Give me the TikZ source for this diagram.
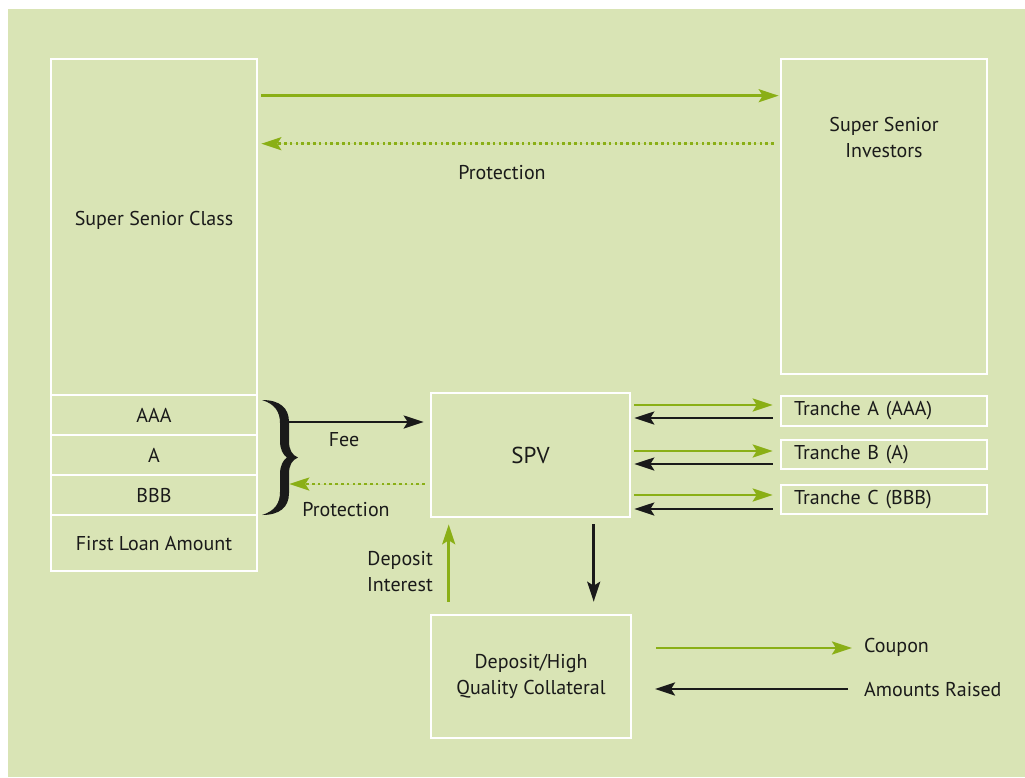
\documentclass[tikz,border=0pt]{standalone}
\usepackage{fontspec}
\setmainfont{PT Sans}
\usetikzlibrary{arrows.meta,calc}
\definecolor{bg}{RGB}{217,228,181}
\definecolor{leaf}{RGB}{138,175,22}
\definecolor{ink}{RGB}{26,26,26}
\tikzset{
  box/.style={draw=white, line width=2.6pt, inner sep=0pt, align=center,
    font=\fontsize{20}{26}\selectfont, text=ink},
  lbl/.style={inner sep=0pt, font=\fontsize{20}{26}\selectfont, text=ink},
  tip/.style={-{Stealth[length=20pt,width=13pt,inset=4pt]}},
  flow/.style={tip, line width=2.6pt, draw=ink},
  coupon/.style={tip, line width=2.6pt, draw=leaf, fill=leaf},
  cover/.style={tip, line width=2.6pt, draw=leaf, fill=leaf,
    dash pattern=on 2.6pt off 3.2pt},
  tranche/.style={box, minimum width=206pt, minimum height=29pt,
    text width=180pt, inner xsep=13pt, align=left},
}
\begin{document}
\begin{tikzpicture}[x=1pt,y=-1pt]
  \useasboundingbox (0,0) rectangle (1025,777);
  \fill[bg] (8,9) rectangle (1025,777);

  % capital structure column
  \node[box, minimum width=206pt, minimum height=336pt] (ssc) at (154,227) {};
  \node[lbl] (ssctxt) at (154,220) {Super Senior Class};
  \node[box, minimum width=206pt, minimum height=40pt] (aaa) at (154,415) {AAA};
  \node[box, minimum width=206pt, minimum height=40pt] (a) at (154,455) {A};
  \node[box, minimum width=206pt, minimum height=40pt] (bbb) at (154,495) {BBB};
  \node[box, minimum width=206pt, minimum height=56pt] (flm) at (154,543) {First Loan Amount};

  % counterparties
  \node[box, minimum width=206pt, minimum height=315pt] (ssi) at (884,216.5) {};
  \node[lbl, align=center] (ssitxt) at (884,137) {Super Senior\\Investors};
  \node[box, minimum width=199pt, minimum height=124pt,
    font=\fontsize{23}{28}\selectfont] (spv) at (530.5,455) {SPV};
  \node[tranche, minimum height=30pt] (ta) at (884,411) {Tranche A (AAA)};
  \node[tranche] (tb) at (884,454.5) {Tranche B (A)};
  \node[tranche] (tc) at (884,499.5) {Tranche C (BBB)};
  \node[box, minimum width=200pt, minimum height=123pt] (dep) at (531,676.5)
    {Deposit/High\\Quality Collateral};

  % super senior swap
  \draw[coupon] ($(ssc.north east)+(3,38)$) -- ($(ssi.north west)+(-1,38)$);
  \draw[cover] ($(ssi.north west)+(-6,86)$) -- ($(ssc.north east)+(3,86)$);
  \node[lbl] (prot1) at (502,173) {Protection};

  % brace over the rated tranches
  \fill[ink] (262,400)
      .. controls (280,400) and (289,408) .. (289,422)
      -- (289,441) .. controls (289,450) and (292,455) .. (298,457.5)
      .. controls (292,460) and (289,465) .. (289,474)
      -- (289,493) .. controls (289,507) and (280,515) .. (262,515)
      .. controls (275,511) and (280,503) .. (280,492)
      -- (280,474) .. controls (280,466) and (283,460) .. (287,457.5)
      .. controls (283,455) and (280,449) .. (280,441)
      -- (280,423) .. controls (280,412) and (275,404) .. (262,400) -- cycle;

  % fee and protection with the SPV
  \draw[flow] ($(aaa.east)+(31,7)$) -- ($(spv.west)+(-6,-33)$);
  \node[lbl] (fee) at (344,440) {Fee};
  \draw[cover] ($(spv.west)+(-5,29)$) -- ($(bbb.east)+(31,-11)$);
  \node[lbl] (prot2) at (346,510) {Protection};

  % notes issued to investors
  \draw[coupon] ($(spv.east)+(3,-50)$) -- ($(ta.west)+(-7,-6)$);
  \draw[flow] ($(ta.west)+(-7,7)$) -- ($(spv.east)+(3,-37)$);
  \draw[coupon] ($(spv.east)+(3,-4)$) -- ($(tb.west)+(-7,-3.5)$);
  \draw[flow] ($(tb.west)+(-7,9.5)$) -- ($(spv.east)+(3,9)$);
  \draw[coupon] ($(spv.east)+(3,40)$) -- ($(tc.west)+(-7,-4.5)$);
  \draw[flow] ($(tc.west)+(-7,9.5)$) -- ($(spv.east)+(3,54)$);

  % collateral account
  \draw[coupon] ($(dep.north west)+(19,-12)$) -- ($(spv.south west)+(19,6)$);
  \node[lbl, align=right, anchor=east] (depint) at (433,572) {Deposit\\Interest};
  \draw[flow] ($(spv.south west)+(164,6)$) -- ($(dep.north west)+(164,-12)$);

  % key
  \coordinate (k1) at (656,648);
  \coordinate (k2) at (655,689);
  \node[lbl, anchor=west] (kc) at (864,647) {Coupon};
  \node[lbl, anchor=west] (ka) at (864,689) {Amounts Raised};
  \draw[coupon] (k1) -- ($(kc.west)+(-12,1)$);
  \draw[flow] ($(ka.west)+(-16,0)$) -- (k2);
\end{tikzpicture}
\end{document}
